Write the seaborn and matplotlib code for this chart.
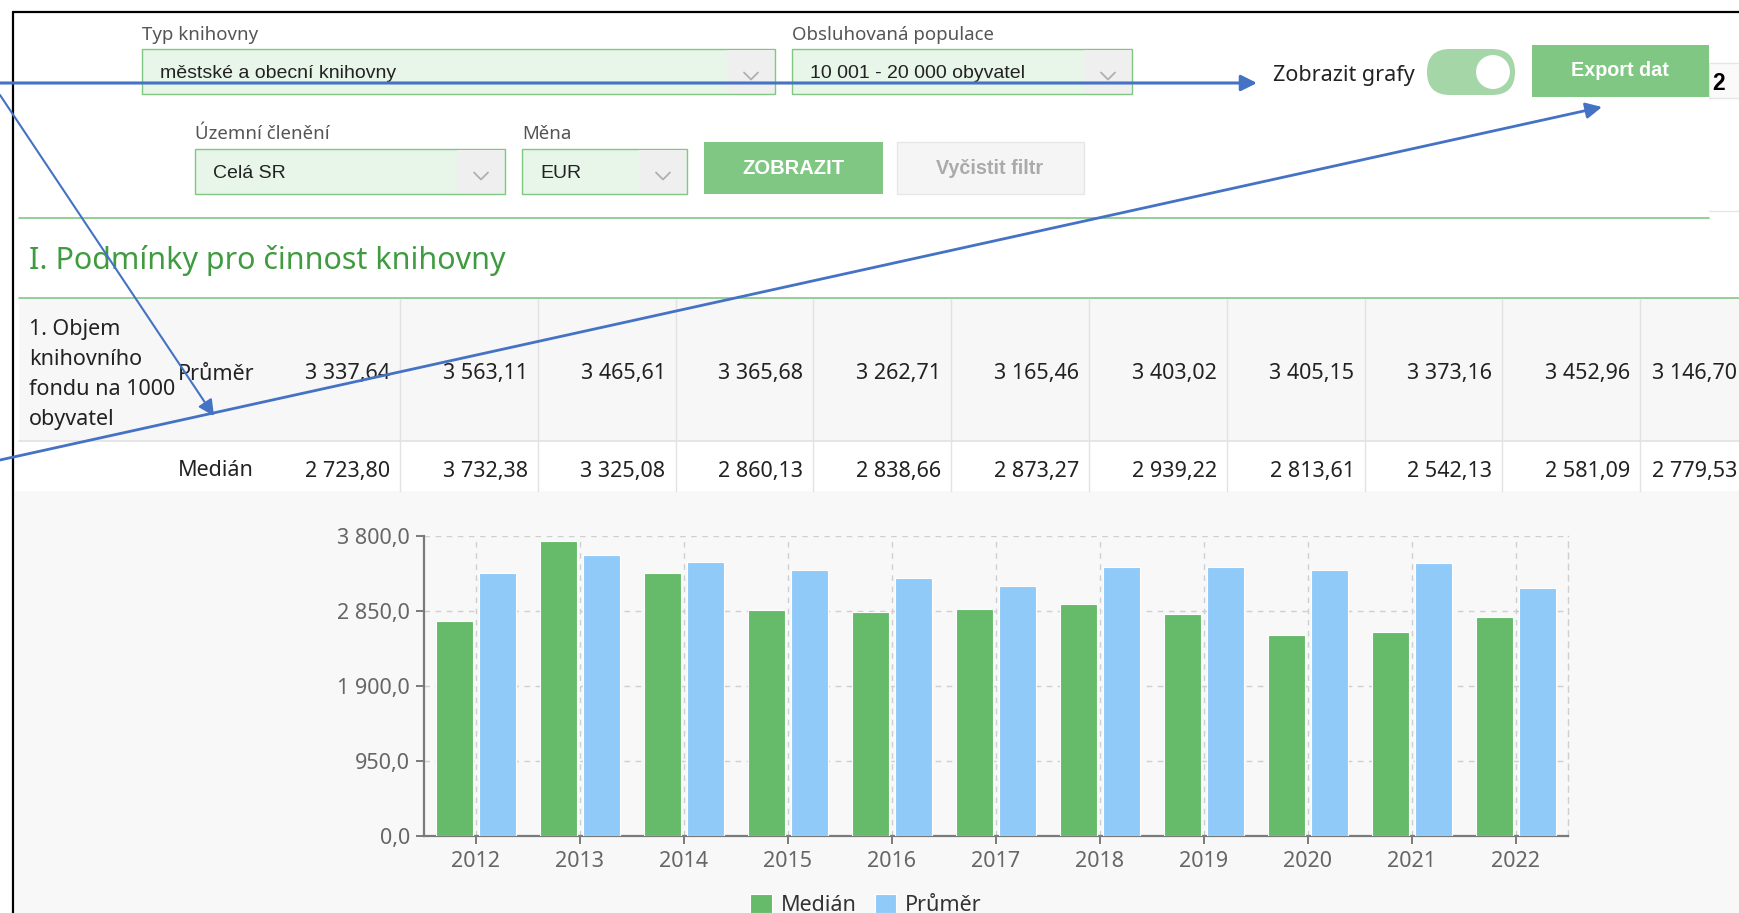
import pandas as pd
import matplotlib
matplotlib.use("Agg")
import matplotlib.pyplot as plt
from matplotlib.patches import Rectangle, FancyBboxPatch, Circle
import seaborn as sns

# =========================
# DATA
# =========================
years = ["2012", "2013", "2014", "2015", "2016", "2017", "2018", "2019", "2020", "2021", "2022"]
prumer = [3337.64, 3563.11, 3465.61, 3365.68, 3262.71, 3165.46, 3403.02, 3405.15, 3373.16, 3452.96, 3146.70]
median = [2723.80, 3732.38, 3325.08, 2860.13, 2838.66, 2873.27, 2939.22, 2813.61, 2542.13, 2581.09, 2779.53]
y_ticks = [0, 950, 1900, 2850, 3800]
series_names = ["Medián", "Průměr"]

filter_labels = ["Typ knihovny", "Obsluhovaná populace", "Územní členění", "Měna"]
filter_values = ["městské a obecní knihovny", "10 001 - 20 000 obyvatel", "Celá SR", "EUR"]
section_title = "I. Podmínky pro činnost knihovny"
row_title = ["1. Objem", "knihovního", "fondu na 1000", "obyvatel"]

GREEN = "#66bb6a"
BLUE = "#90caf9"
UI_GREEN = "#81c784"
ARROW = "#4472c4"


def cz(v, d):
    return f"{v:,.{d}f}".replace(",", " ").replace(".", ",")


sns.set_theme(style="white")
plt.rcParams["font.family"] = ["Noto Sans", "DejaVu Sans"]

W, H = 1739, 913
fig = plt.figure(figsize=(W / 100, H / 100), dpi=100)
fig.patch.set_facecolor("white")

# background axes in pixel coordinates (y down)
bg = fig.add_axes([0, 0, 1, 1])
bg.set_xlim(0, W)
bg.set_ylim(H, 0)
bg.axis("off")

ARIAL = ["Liberation Sans", "DejaVu Sans"]


def rect(x0, y0, x1, y1, **kw):
    bg.add_patch(Rectangle((x0, y0), x1 - x0, y1 - y0, **kw))


def chevron(cx, cy):
    bg.plot([cx - 7, cx, cx + 7], [cy - 3, cy + 4, cy - 3], color="#b0b0b0", lw=1.3)


# =========================
# FILTER BAR
# =========================
label_pos = [(142, 35), (792, 35), (195, 134), (522, 134)]
for (x, y), t in zip(label_pos, filter_labels):
    bg.text(x, y, t, fontsize=13.4, color="#555555", va="center", ha="left")

boxes = [(142, 49, 775, 94), (792, 49, 1132, 94), (195, 149, 505, 194), (522, 149, 687, 194)]
for (x0, y0, x1, y1), t in zip(boxes, filter_values):
    rect(x0, y0, x1, y1, facecolor="#e8f5e9", edgecolor=UI_GREEN, lw=1)
    rect(x1 - 48, y0 + 1, x1 - 1, y1 - 1, facecolor="#efefef", edgecolor="none")
    chevron(x1 - 24, (y0 + y1) / 2 + 4)
    bg.text(x0 + 18, (y0 + y1) / 2 + 2, t, fontsize=14, color="#222222", va="center",
            ha="left", family=ARIAL)

# buttons
rect(704, 142, 883, 194, facecolor=UI_GREEN, edgecolor="none")
bg.text(793, 168, "ZOBRAZIT", fontsize=14.5, color="white", fontweight="bold",
        ha="center", va="center", family=ARIAL)
rect(897, 142, 1084, 194, facecolor="#f5f5f5", edgecolor="#e6e6e6", lw=1)
bg.text(990, 169, "Vyčistit filtr", fontsize=14.2, color="#aaaaaa", fontweight="bold",
        ha="center", va="center", family=ARIAL)

bg.text(1273, 75, "Zobrazit grafy", fontsize=15.5, color="#222222", ha="left", va="center")
bg.add_patch(FancyBboxPatch((1427, 49), 88, 46, boxstyle="round,pad=0,rounding_size=23",
                            facecolor="#a5d6a7", edgecolor="none"))
bg.add_patch(Circle((1493, 72), 17, facecolor="white", edgecolor="none"))

rect(1709, 63, 1745, 98, facecolor="#fafafa", edgecolor="#e6e6e6", lw=1)
rect(1532, 45, 1709, 97, facecolor=UI_GREEN, edgecolor="none")
bg.text(1620, 71, "Export dat", fontsize=14.2, color="white", fontweight="bold",
        ha="center", va="center", family=ARIAL)
bg.text(1712, 84, "2", fontsize=16.5, color="black", fontweight="bold",
        ha="left", va="center", family=ARIAL)
bg.plot([1709, W], [211, 211], color="#e6e6e6", lw=1)

# =========================
# SECTION TITLE + TABLE
# =========================
bg.plot([19, 1709], [218, 218], color=UI_GREEN, lw=1.2)
bg.text(29, 260, section_title, fontsize=21.9, color="#3f9b3f", ha="left", va="center",
        fontweight="light")
bg.plot([19, W], [298, 298], color=UI_GREEN, lw=1.2)

rect(19, 299, W, 441, facecolor="#f7f7f7", edgecolor="none")
rect(19, 441, W, 491, facecolor="white", edgecolor="none")
bg.plot([19, W], [441, 441], color="#e2e2e2", lw=1.2)
rect(15, 491, W, H, facecolor="#f8f8f8", edgecolor="none")

seps = [400 + 137.8 * i for i in range(10)]
for sx in seps:
    bg.plot([sx, sx], [299, 491], color="#e2e2e2", lw=1)

for i, line in enumerate(row_title):
    bg.text(29, 329 + 30.3 * i, line, fontsize=15.5, color="#222222", ha="left", va="center")
bg.text(254, 374, series_names[1], fontsize=15.5, color="#222222", ha="right", va="center")
bg.text(254, 471, series_names[0], fontsize=15.5, color="#222222", ha="right", va="center")

right_edges = [s + 127.8 for s in [262.2] + seps[:-1]] + [1737]
for xr, p, m in zip(right_edges, prumer, median):
    bg.text(xr, 374, cz(p, 2), fontsize=15.5, color="#222222", ha="right", va="center")
    bg.text(xr, 471, cz(m, 2), fontsize=15.5, color="#222222", ha="right", va="center")

# frame lines of the screenshot
bg.plot([13, 13], [12, H], color="black", lw=1.6)
bg.plot([13, W], [12, 12], color="black", lw=1.6)

# annotation arrows
arrow_kw = dict(arrowstyle="-|>", color=ARROW, shrinkA=0, shrinkB=0, mutation_scale=24)
bg.annotate("", xy=(1257, 83), xytext=(0, 83), arrowprops=dict(lw=2.2, **arrow_kw), zorder=10)
bg.annotate("", xy=(214, 416), xytext=(0, 95), arrowprops=dict(lw=1.5, **arrow_kw), zorder=10)
bg.annotate("", xy=(1602, 107), xytext=(0, 460), arrowprops=dict(lw=2.0, **arrow_kw), zorder=10)

# =========================
# CHART
# =========================
df = pd.DataFrame({
    "Rok": years * 2,
    "Hodnota": median + prumer,
    "Řada": [series_names[0]] * len(years) + [series_names[1]] * len(years),
})

ax = fig.add_axes([424 / W, (H - 836) / H, 1144 / W, 300 / H])
ax.set_facecolor("none")
sns.barplot(data=df, x="Rok", y="Hodnota", hue="Řada", hue_order=series_names,
            palette={series_names[0]: GREEN, series_names[1]: BLUE}, saturation=1,
            width=0.84, gap=0.15, ax=ax, edgecolor="white", linewidth=0.8, zorder=3)

ax.set_ylim(0, 3800)
ax.set_xlim(-0.5, len(years) - 0.5)
ax.set_yticks(y_ticks)
ax.set_yticklabels([cz(v, 1) for v in y_ticks])
ax.set_xlabel("")
ax.set_ylabel("")
ax.set_axisbelow(True)
ax.grid(True, axis="both", color="#cfcfcf", linestyle=(0, (4, 4)), lw=1)
for s in ["left", "bottom"]:
    ax.spines[s].set_color("#7a7a7a")
    ax.spines[s].set_linewidth(1.6)
ax.spines["top"].set_visible(False)
ax.spines["right"].set_color("#cfcfcf")
ax.spines["right"].set_linestyle((0, (4, 4)))
ax.spines["right"].set_linewidth(1)
ax.tick_params(axis="both", which="both", length=6, width=1.4, color="#7a7a7a",
               labelsize=15.5, labelcolor="#666666", direction="out")
ax.tick_params(axis="y", pad=4)
ax.tick_params(axis="x", pad=5)
ax.tick_params(left=True, bottom=True)

ax.legend(loc="center", bbox_to_anchor=(866 / W, 1 - 905 / H), bbox_transform=fig.transFigure,
          ncol=2, frameon=False, fontsize=15.5, handlelength=1.0, handleheight=1.0,
          handletextpad=0.4, columnspacing=0.85, labelcolor="#333333")

fig.savefig("out.png", dpi=100, facecolor="white")
